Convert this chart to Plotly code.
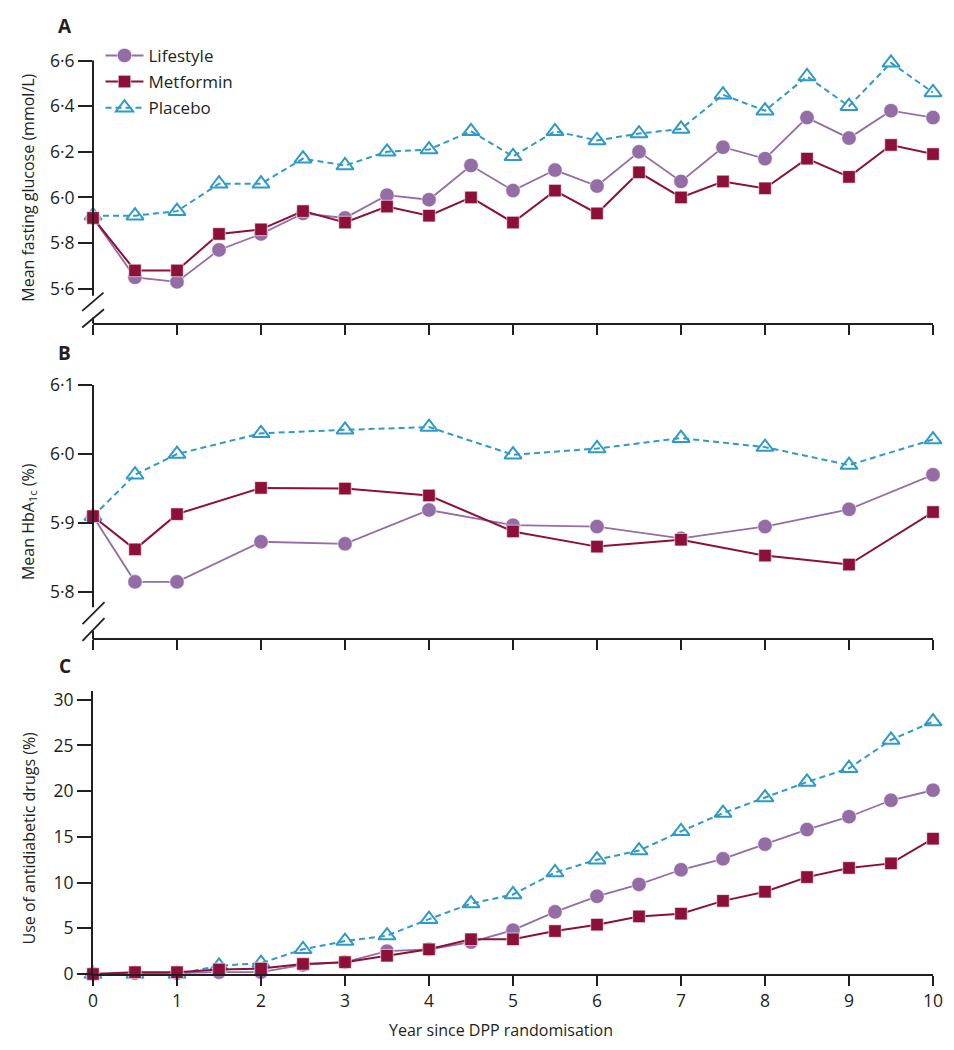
import plotly.graph_objects as go

# ---------------- data ----------------
years = [0, 0.5, 1, 1.5, 2, 2.5, 3, 3.5, 4, 4.5, 5, 5.5, 6, 6.5, 7, 7.5, 8, 8.5, 9, 9.5, 10]
years_b = [0, 0.5, 1, 2, 3, 4, 5, 6, 7, 8, 9, 10]

fpg_lifestyle = [5.91, 5.65, 5.63, 5.77, 5.84, 5.93, 5.91, 6.01, 5.99, 6.14, 6.03, 6.12, 6.05, 6.20, 6.07, 6.22, 6.17, 6.35, 6.26, 6.38, 6.35]
fpg_metformin = [5.91, 5.68, 5.68, 5.84, 5.86, 5.94, 5.89, 5.96, 5.92, 6.00, 5.89, 6.03, 5.93, 6.11, 6.00, 6.07, 6.04, 6.17, 6.09, 6.23, 6.19]
fpg_placebo = [5.92, 5.92, 5.94, 6.06, 6.06, 6.17, 6.14, 6.20, 6.21, 6.29, 6.18, 6.29, 6.25, 6.28, 6.30, 6.45, 6.38, 6.53, 6.40, 6.59, 6.46]

hba_lifestyle = [5.91, 5.815, 5.815, 5.873, 5.870, 5.919, 5.897, 5.895, 5.878, 5.895, 5.920, 5.970]
hba_metformin = [5.91, 5.862, 5.913, 5.951, 5.950, 5.940, 5.888, 5.866, 5.876, 5.853, 5.840, 5.916]
hba_placebo = [5.91, 5.970, 6.000, 6.030, 6.035, 6.039, 5.999, 6.008, 6.023, 6.010, 5.984, 6.021]

drug_lifestyle = [0, 0.1, 0.1, 0.2, 0.2, 1.0, 1.3, 2.5, 2.7, 3.5, 4.8, 6.8, 8.5, 9.8, 11.4, 12.6, 14.2, 15.8, 17.2, 19.0, 20.1]
drug_metformin = [0, 0.2, 0.2, 0.5, 0.6, 1.1, 1.3, 2.0, 2.7, 3.8, 3.8, 4.7, 5.4, 6.3, 6.6, 8.0, 9.0, 10.6, 11.6, 12.1, 14.8]
drug_placebo = [0, 0, 0, 0.9, 1.2, 2.7, 3.6, 4.2, 6.0, 7.7, 8.7, 11.1, 12.5, 13.5, 15.6, 17.6, 19.3, 21.0, 22.5, 25.6, 27.6]

fpg_ticks = [5.6, 5.8, 6.0, 6.2, 6.4, 6.6]
fpg_ticktext = ["5·6", "5·8", "6·0", "6·2", "6·4", "6·6"]
hba_ticks = [5.8, 5.9, 6.0, 6.1]
hba_ticktext = ["5·8", "5·9", "6·0", "6·1"]
drug_ticks = [0, 5, 10, 15, 20, 25, 30]
year_ticks = [0, 1, 2, 3, 4, 5, 6, 7, 8, 9, 10]

# ---------------- styling ----------------
OFF = 8          # page body margin
S = 0.9905       # observed vertical scale of the photograph
W = 938
H = 1044
L = 92.5 - OFF
PR = 933 - OFF
R = W - PR
PW = PR - L
FONT = "Open Sans"
AX = "#231F20"
C_LIFE = "#946CA6"
C_MET = "#8C1038"
C_PLA = "#2F9AC6"


def px2x(px):
    """screen x -> paper x"""
    return (px - OFF - L) / PW


def py2y(py):
    """screen y (in the photograph) -> paper y"""
    return 1 - (py / S - OFF) / H


fig = go.Figure()

panels = [
    ("", "y", years, fpg_lifestyle, fpg_metformin, fpg_placebo, True),
    ("2", "y2", years_b, hba_lifestyle, hba_metformin, hba_placebo, False),
    ("3", "y3", years, drug_lifestyle, drug_metformin, drug_placebo, False),
]

for suf, yref, xs, life, met, pla, show in panels:
    xa = "x" + suf
    fig.add_trace(go.Scatter(
        x=xs, y=pla, name="Placebo", xaxis=xa, yaxis=yref, mode="lines+markers",
        line=dict(color=C_PLA, width=2, dash="6px,4px"),
        marker=dict(symbol="triangle-up-open", size=15, color=C_PLA, line=dict(width=2, color=C_PLA)),
        cliponaxis=False, showlegend=show, legendrank=3, legendgroup="p"))
    fig.add_trace(go.Scatter(
        x=xs, y=life, name="Lifestyle", xaxis=xa, yaxis=yref, mode="lines+markers",
        line=dict(color=C_LIFE, width=1.8),
        marker=dict(symbol="circle", size=14.5, color=C_LIFE, line=dict(width=0.6, color="white")),
        cliponaxis=False, showlegend=show, legendrank=1, legendgroup="l"))
    fig.add_trace(go.Scatter(
        x=xs, y=met, name="Metformin", xaxis=xa, yaxis=yref, mode="lines+markers",
        line=dict(color=C_MET, width=2),
        marker=dict(symbol="square", size=12.5, color=C_MET, line=dict(width=0.6, color="white")),
        cliponaxis=False, showlegend=show, legendrank=2, legendgroup="m"))

# panel geometry (photograph pixel rows)
A_top, A_bot = 45, 320
B_top, B_bot = 365, 637.3
C_top, C_bot = 690, 974.7

a_ppu = (286 - 56.7) / 1.0
a_range = [5.6 - (A_bot - 286) / a_ppu, 6.6 + (56.7 - A_top) / a_ppu]
b_ppu = (591 - 382.7) / 0.3
b_range = [5.8 - (B_bot - 591) / b_ppu, 6.1 + (382.7 - B_top) / b_ppu]
c_ppu = (974.7 - 699) / 30
c_range = [0, 30 + (699 - C_top) / c_ppu]

tickfont = dict(family=FONT, size=17.5, color="#231F20")
common_x = dict(range=[0, 10], tickvals=year_ticks, showgrid=False, zeroline=False,
                showline=True, linecolor=AX, linewidth=2, ticks="outside",
                ticklen=10, tickwidth=1.8, tickcolor=AX, tickfont=tickfont)
common_y = dict(showgrid=False, zeroline=False, ticks="outside", ticklen=14,
                tickwidth=1.8, tickcolor=AX, tickfont=tickfont)

fig.update_layout(
    width=W, height=H,
    margin=dict(l=L, r=R, t=0, b=0),
    paper_bgcolor="white", plot_bgcolor="white",
    font=dict(family=FONT, color="#231F20"),
    xaxis=dict(domain=[0, 1], anchor="y", showticklabels=False, **common_x),
    xaxis2=dict(domain=[0, 1], anchor="y2", showticklabels=False, **common_x),
    xaxis3=dict(domain=[0, 1], anchor="y3", showticklabels=True, **common_x),
    yaxis=dict(domain=[py2y(A_bot), py2y(A_top)], anchor="x", range=a_range,
               tickvals=fpg_ticks, ticktext=fpg_ticktext, showline=False, **common_y),
    yaxis2=dict(domain=[py2y(B_bot), py2y(B_top)], anchor="x2", range=b_range,
                tickvals=hba_ticks, ticktext=hba_ticktext, showline=False, **common_y),
    yaxis3=dict(domain=[py2y(C_bot), py2y(C_top)], anchor="x3", range=c_range,
                tickvals=drug_ticks, showline=True, linecolor=AX, linewidth=2, **common_y),
    legend=dict(x=px2x(100), y=py2y(34), xanchor="left", yanchor="top",
                font=dict(family=FONT, size=17, color="#231F20"),
                bgcolor="rgba(0,0,0,0)", itemwidth=38, tracegroupgap=1,
                traceorder="grouped"),
    showlegend=True,
)

shapes = []


def seg(x0, y0, x1, y1, w=2):
    shapes.append(dict(type="line", xref="paper", yref="paper",
                       x0=px2x(x0), y0=py2y(y0), x1=px2x(x1), y1=py2y(y1),
                       line=dict(color=AX, width=w)))


X0 = 92.5
# panel A axis line with break
seg(X0, 56.7, X0, 293)
seg(X0, 315, X0, A_bot + 1)
seg(81.7, 308.3, 103, 290, 1.8)
seg(81.7, 325, 103.5, 306.7, 1.8)
# panel B axis line with break
seg(X0, 382.7, X0, 606)
seg(X0, 630, X0, B_bot + 1)
seg(82, 623, 104, 601, 1.8)
seg(82, 640, 104, 617, 1.8)
fig.update_layout(shapes=shapes)

ann = []
for letter, py in [("A", 22), ("B", 351), ("C", 665)]:
    ann.append(dict(text="<b>%s</b>" % letter, x=px2x(64), y=py2y(py), xref="paper", yref="paper",
                    showarrow=False, font=dict(family=FONT, size=19, color="#231F20"),
                    xanchor="center", yanchor="middle"))
for txt, py in [("Mean fasting glucose (mmol/L)", 185),
                ("Mean HbA<sub>1c</sub> (%)", 520),
                ("Use of antidiabetic drugs (%)", 838)]:
    ann.append(dict(text=txt, x=px2x(28), y=py2y(py), xref="paper", yref="paper",
                    showarrow=False, textangle=-90, font=dict(family=FONT, size=16, color="#231F20"),
                    xanchor="center", yanchor="middle"))
ann.append(dict(text="Year since DPP randomisation", x=px2x(501), y=py2y(1031), xref="paper", yref="paper",
                showarrow=False, font=dict(family=FONT, size=16, color="#231F20"),
                xanchor="center", yanchor="middle"))
fig.update_layout(annotations=ann)

fig.write_html("out.html")
